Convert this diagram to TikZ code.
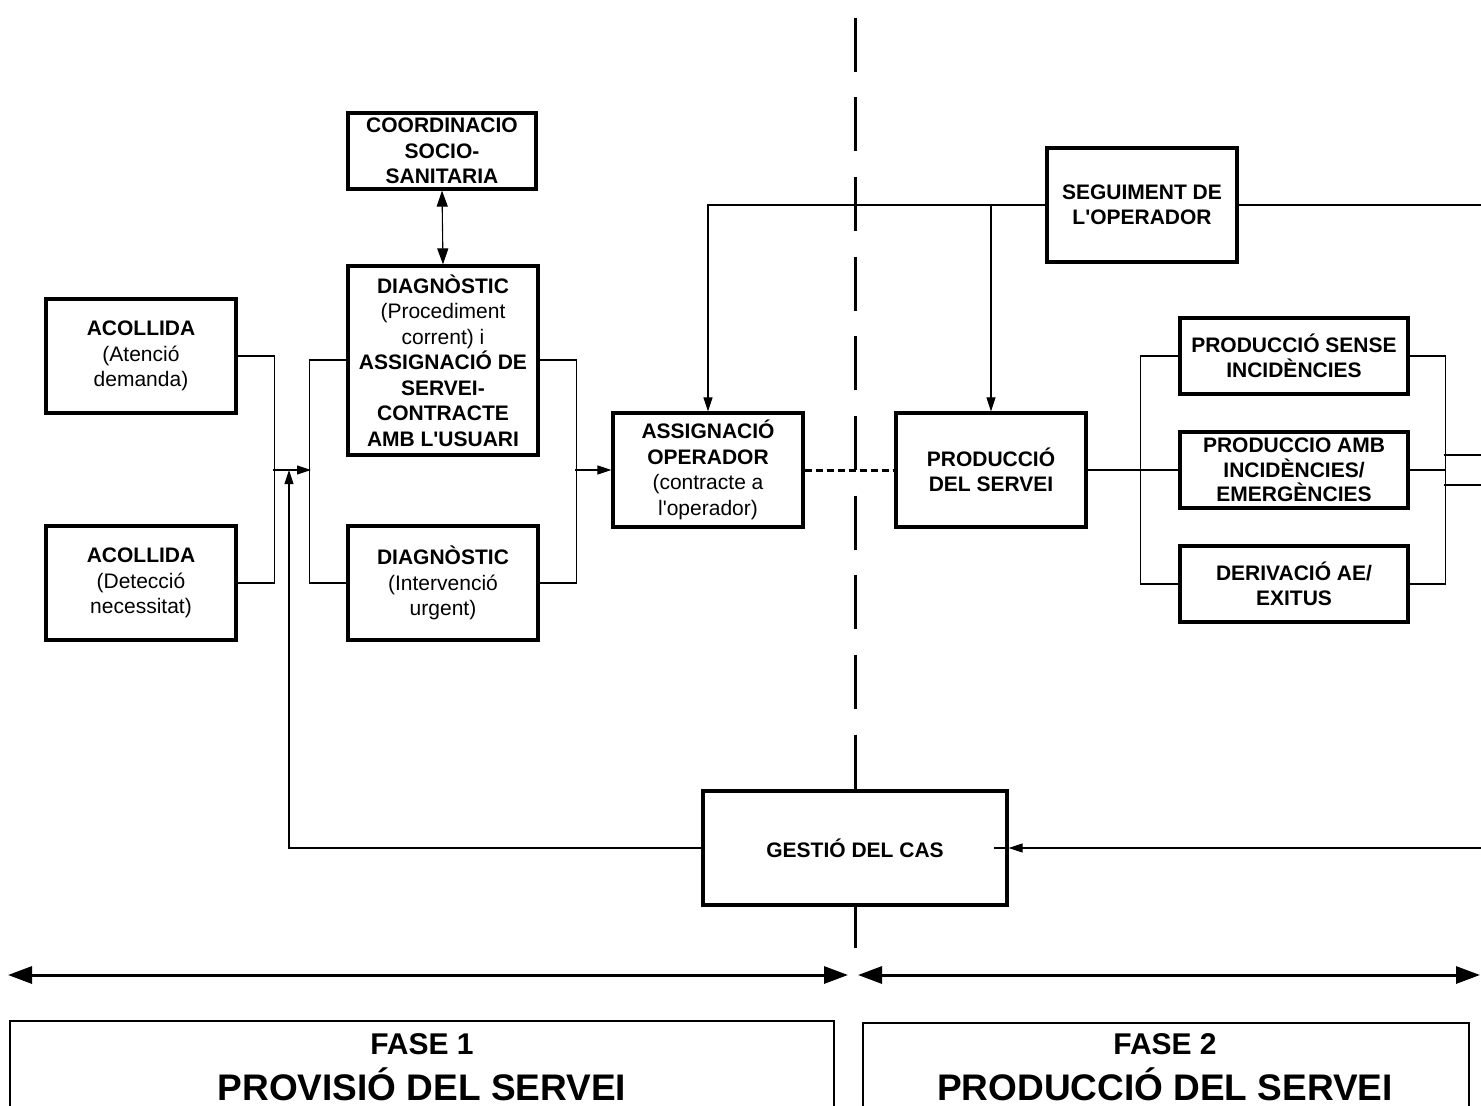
\documentclass[tikz,border=0pt]{standalone}
\usepackage{fontspec}
\setmainfont{Liberation Sans}
\usetikzlibrary{arrows.meta}
\newcommand\bxfont{\fontsize{21}{25.5}\selectfont\bfseries}
\newcommand\rg{\mdseries}
\newcommand\ap{\textquotesingle}
\begin{document}
\begin{tikzpicture}[x=1pt,y=-1pt,
  box/.style={draw, line width=3.2pt, fill=white, align=center, inner sep=0pt, font=\bxfont},
  thin/.style={line width=1.1pt},
  arr/.style={thin, -{Triangle[length=14pt,width=9pt]}},
  darr/.style={thin, {Triangle[length=16pt,width=11pt]}-{Triangle[length=16pt,width=11pt]}},
  bigarr/.style={line width=3pt, {Triangle[length=24pt,width=17pt]}-{Triangle[length=24pt,width=17pt]}},
  phasebox/.style={draw, line width=1.5pt, inner sep=0pt},
  fasefont/.style={font=\fontsize{30}{36}\selectfont\bfseries},
  phasefont/.style={font=\fontsize{37}{44}\selectfont\bfseries}
]
\clip (0,0) rectangle (1481,1106);
\fill[white] (0,0) rectangle (1481,1106);

% central divider
\coordinate (divtop) at (855,17.6);
\coordinate (divbot) at (855,948);
\draw[line width=3pt, dash pattern=on 54pt off 25.67pt] (divtop) -- (divbot);

% boxes
\node[box, minimum width=188, minimum height=76] (coord) at (442,151) {COORDINACIO\\SOCIO-\\SANITARIA};
\node[box, minimum width=190, minimum height=189] (diag) at (443,360.5) {DIAGNÒSTIC\\{\rg(Procediment}\\{\rg corrent) i}\\ASSIGNACIÓ DE\\SERVEI-\\CONTRACTE\\AMB L\ap USUARI};
\node[box, minimum width=190, minimum height=114] (acol1) at (141,356) {ACOLLIDA\\{\rg(Atenció}\\{\rg demanda)}};
\node[box, minimum width=190, minimum height=114] (acol2) at (141,583) {ACOLLIDA\\{\rg(Detecció}\\{\rg necessitat)}};
\node[box, minimum width=190, minimum height=114] (diagu) at (443,583) {DIAGNÒSTIC\\{\rg(Intervenció}\\{\rg urgent)}};
\node[box, minimum width=190, minimum height=114] (assig) at (708,470) {ASSIGNACIÓ\\OPERADOR\\{\rg(contracte a}\\{\rg l\ap operador)}};
\node[box, minimum width=190, minimum height=114] (prod) at (991,470) {PRODUCCIÓ\\DEL SERVEI};
\node[box, minimum width=190, minimum height=114] (seg) at (1142,205) {SEGUIMENT DE\\L\ap OPERADOR};
\node[box, minimum width=228, minimum height=76] (p1) at (1294,356) {PRODUCCIÓ SENSE\\INCIDÈNCIES};
\node[box, minimum width=228, minimum height=76, font=\fontsize{21}{24.5}\selectfont\bfseries] (p2) at (1294,470) {PRODUCCIO AMB\\INCIDÈNCIES/\\EMERGÈNCIES};
\node[box, minimum width=228, minimum height=76] (p3) at (1294,584) {DERIVACIÓ AE/\\EXITUS};
\node[box, minimum width=304, minimum height=114] (gest) at (855,848) {GESTIÓ DEL CAS};

% left brackets
\coordinate (j1) at (273,470);
\coordinate (j2) at (311,470);
\coordinate (j3) at (289,470);
\coordinate (j4) at (575,470);
\draw[thin] (acol1.east) -- ++(37,0) |- (acol2.east);
\draw[arr] (j1) -- (j2);
\draw[thin] (diag.west |- 0,360) -- ++(-37,0) |- (diagu.west);
\draw[arr] (gest.west) -| (j3);
\draw[thin] (diag.east |- 0,360) -- ++(37,0) |- (diagu.east);
\draw[arr] (j4) -- (assig.west);
\draw[darr] (coord.south) -- (diag.north);

% seguiment
\coordinate (segend) at (1481,205);
\draw[arr] (seg.west) -| (assig.north);
\draw[arr] (prod.north |- seg.west) -- (prod.north);
\draw[thin] (seg.east) -- (segend);

% production branches
\draw[thin] (p1.west) -- ++(-38,0) |- (p3.west);
\draw[thin] (prod.east) -- (p2.west);
\draw[thin] (p1.east) -- ++(36,0) |- (p3.east);
\draw[thin] (p2.east) -- ++(36,0);
\coordinate (r1a) at (1444,455);
\coordinate (r1b) at (1481,455);
\coordinate (r2a) at (1444,485);
\coordinate (r2b) at (1481,485);
\draw[thin] (r1a) -- (r1b);
\draw[thin] (r2a) -- (r2b);

% dashed link
\draw[line width=3pt, dash pattern=on 7pt off 4pt] (assig.east) -- (prod.west);

% gestio
\coordinate (gestend) at (1481,848);
\draw[arr] (gestend) -- (gest.east);
\draw[thin] (gest.east) -- ++(-15,0);

% phase arrows
\coordinate (a1l) at (8,975);
\coordinate (a1r) at (848,975);
\coordinate (a2l) at (858,975);
\coordinate (a2r) at (1480,975);
\draw[bigarr] (a1l) -- (a1r);
\draw[bigarr] (a2l) -- (a2r);

% phase boxes
\node[phasebox, anchor=north west, minimum width=824, minimum height=150] (f1) at (9,1020) {};
\node[phasebox, anchor=north west, minimum width=606, minimum height=150] (f2) at (862,1022) {};
\node[fasefont, anchor=base] (f1a) at (422,1054) {FASE 1};
\node[phasefont, anchor=base] (f1b) at (422,1100) {PROVISIÓ DEL SERVEI};
\node[fasefont, anchor=base] (f2a) at (1165,1054) {FASE 2};
\node[phasefont, anchor=base] (f2b) at (1165,1100) {PRODUCCIÓ DEL SERVEI};
\end{tikzpicture}
\end{document}
